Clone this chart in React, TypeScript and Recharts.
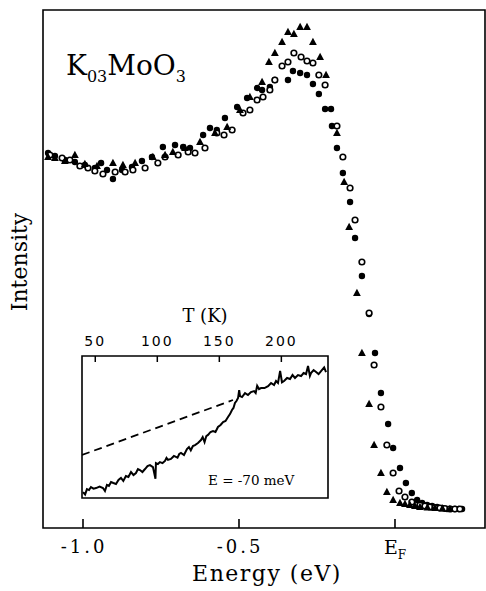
import React from 'react';
import {
  ScatterChart,
  Scatter,
  LineChart,
  Line,
  XAxis,
  YAxis,
  ReferenceArea,
} from 'recharts';

// main spectra: [energy (eV), intensity (arb.)]
const filledCircles: [number, number][] = [
  [-1.112, 75.0], [-1.09, 74.4], [-1.058, 73.6], [-1.026, 73.2], [-0.994, 72.6],
  [-0.962, 72.0], [-0.942, 73.0], [-0.923, 71.6], [-0.904, 69.8], [-0.875, 71.6],
  [-0.843, 72.2], [-0.811, 73.4], [-0.779, 74.2], [-0.744, 76.2], [-0.705, 76.6],
  [-0.679, 76.2], [-0.657, 76.0], [-0.615, 78.6], [-0.593, 80.0], [-0.571, 79.6],
  [-0.545, 82.0], [-0.506, 84.2], [-0.474, 86.0], [-0.442, 88.0], [-0.426, 87.6],
  [-0.401, 88.2], [-0.385, 89.6], [-0.343, 89.6], [-0.327, 91.4], [-0.304, 91.0],
  [-0.282, 90.6], [-0.263, 88.8], [-0.244, 86.8], [-0.224, 83.8], [-0.205, 83.8],
  [-0.202, 80.4], [-0.186, 76.0], [-0.167, 71.0], [-0.144, 65.2], [-0.128, 58.0],
  [-0.106, 50.4], [-0.083, 42.8], [-0.064, 35.0], [-0.045, 27.0], [-0.022, 20.8],
  [-0.006, 16.0], [0.016, 12.0], [0.035, 9.0], [0.054, 7.0], [0.071, 5.6],
  [0.087, 5.0], [0.103, 4.6], [0.119, 4.4], [0.135, 4.2], [0.151, 4.0],
  [0.167, 3.8], [0.18, 3.8], [0.192, 3.8], [0.204, 3.8], [0.215, 3.8],
];

const openCircles: [number, number][] = [
  [-1.106, 74.6], [-1.067, 74.0], [-1.042, 73.6], [-1.01, 72.4], [-0.984, 72.0],
  [-0.962, 71.4], [-0.936, 70.8], [-0.897, 71.2], [-0.865, 71.2], [-0.84, 71.6],
  [-0.801, 72.0], [-0.76, 73.0], [-0.737, 74.2], [-0.695, 74.6], [-0.663, 75.2],
  [-0.641, 75.0], [-0.609, 76.0], [-0.571, 79.0], [-0.548, 78.6], [-0.522, 79.6],
  [-0.487, 83.0], [-0.465, 83.6], [-0.442, 85.6], [-0.423, 86.2], [-0.401, 87.6],
  [-0.385, 89.6], [-0.362, 92.4], [-0.343, 93.2], [-0.324, 95.0], [-0.301, 94.2],
  [-0.282, 93.4], [-0.263, 93.0], [-0.244, 90.6], [-0.224, 88.6], [-0.186, 80.4],
  [-0.167, 74.2], [-0.144, 68.0], [-0.128, 61.6], [-0.106, 53.2], [-0.083, 43.0],
  [-0.067, 32.6], [-0.045, 24.2], [-0.026, 16.6], [-0.006, 11.0], [0.013, 7.4],
  [0.032, 6.2], [0.054, 5.2], [0.08, 4.6], [0.096, 4.4], [0.112, 4.2],
  [0.128, 4.1], [0.144, 4.0], [0.16, 3.9], [0.176, 3.8], [0.192, 3.8], [0.208, 3.8],
];

const triangles: [number, number][] = [
  [-1.112, 74.2], [-1.09, 74.0], [-1.058, 73.4], [-1.026, 74.6], [-0.994, 72.8],
  [-0.955, 72.4], [-0.904, 73.0], [-0.872, 72.6], [-0.833, 73.0], [-0.776, 74.2],
  [-0.737, 74.6], [-0.712, 75.2], [-0.673, 76.0], [-0.625, 77.2], [-0.577, 79.0],
  [-0.538, 80.2], [-0.497, 83.6], [-0.465, 86.2], [-0.426, 89.2], [-0.404, 93.2],
  [-0.385, 95.0], [-0.362, 97.2], [-0.343, 99.2], [-0.324, 98.8], [-0.304, 100.2],
  [-0.282, 100.2], [-0.263, 97.2], [-0.24, 94.2], [-0.221, 90.6], [-0.186, 79.0],
  [-0.163, 69.2], [-0.147, 60.2], [-0.122, 47.0], [-0.106, 35.0], [-0.083, 24.8],
  [-0.067, 16.6], [-0.045, 11.0], [-0.026, 7.2], [-0.006, 5.6], [0.016, 5.0],
  [0.032, 4.8], [0.048, 4.6], [0.064, 4.4], [0.08, 4.2], [0.104, 4.1],
  [0.128, 4.0], [0.152, 3.9], [0.176, 3.8],
];

const energyTicks = [-1, -0.5, 0];
const energyTickLabels = ['-1.0', '-0.5', 'EF'];

// inset: intensity at E = -70 meV vs temperature
const insetMeasured: [number, number][] = [
  [40.1, 4.2], [41.8, 2.5], [43.3, 6.3], [45.0, 5.6], [46.5, 7.7], [48.6, 6.6],
  [50.6, 7.0], [53.5, 8.1], [56.2, 7.0], [57.8, 4.9], [59.4, 9.2], [61.0, 8.5],
  [62.7, 11.3], [64.6, 10.6], [66.7, 9.9], [68.7, 12.7], [70.7, 14.1], [72.6, 12.0],
  [74.7, 15.5], [76.7, 14.8], [78.8, 18.3], [80.8, 16.2], [82.8, 17.6], [84.4, 20.4],
  [86.0, 19.7], [88.0, 18.3], [90.1, 20.4], [92.1, 22.5], [94.1, 23.2], [96.5, 21.8],
  [98.5, 13.5], [98.9, 24.6], [100.5, 23.9], [102.1, 25.3], [104.2, 24.6],
  [106.2, 26.1], [107.4, 28.2], [108.6, 26.8], [111.0, 27.5], [113.4, 29.6],
  [116.3, 28.4], [117.7, 31.0], [119.1, 31.7], [121.5, 30.3], [123.9, 34.5],
  [125.5, 35.9], [127.0, 33.6], [128.7, 36.6], [130.4, 37.3], [132.8, 38.7],
  [135.2, 40.8], [136.6, 42.9], [138.1, 39.4], [139.5, 43.6], [140.9, 44.4],
  [142.9, 46.5], [144.9, 47.2], [146.9, 46.5], [148.9, 50.0], [151.0, 51.4],
  [153.0, 53.5], [155.0, 54.2], [157.0, 57.0], [158.6, 59.1], [160.2, 62.0],
  [161.4, 63.4], [162.6, 66.9], [163.8, 68.3], [165.1, 70.4], [166.0, 76.0],
  [166.7, 71.8], [168.3, 71.1], [170.7, 73.9], [173.1, 72.5], [175.5, 74.6],
  [178.0, 75.3], [179.3, 73.9], [180.5, 79.0], [182.0, 76.7], [183.6, 77.4],
  [186.4, 77.4], [189.3, 78.8], [191.7, 81.0], [194.1, 79.6], [195.7, 82.4],
  [197.3, 81.0], [199.0, 89.5], [200.5, 81.5], [202.2, 82.4], [204.6, 84.5],
  [207.0, 83.8], [209.0, 86.6], [211.0, 84.5], [213.4, 86.6], [215.9, 85.9],
  [217.9, 88.0], [219.9, 87.3], [221.5, 93.0], [223.0, 86.0], [223.9, 88.0],
  [226.0, 90.1], [228.0, 88.7], [230.0, 87.3], [232.0, 89.4], [234.5, 92.0],
  [236.0, 88.7],
];
const insetExtrapolated: [number, number][] = [
  [39.3, 30.3], [161.0, 69.0],
];
const insetTicks = [50, 100, 150, 200];

const toPoints = (arr: [number, number][]) => arr.map(([e, i]) => ({ e, i }));
const toInset = (arr: [number, number][]) => arr.map(([t, v]) => ({ t, v }));

const serif = '"DejaVu Serif", serif';

const FilledDot = (props: any) => <circle cx={props.cx} cy={props.cy} r={3.2} fill="#000" />;
const OpenDot = (props: any) => (
  <circle cx={props.cx} cy={props.cy} r={2.8} fill="#fff" stroke="#000" strokeWidth={1.6} />
);
const TriDot = (props: any) => {
  const { cx, cy } = props;
  return <polygon points={`${cx},${cy - 4.3} ${cx - 3.9},${cy + 2.9} ${cx + 3.9},${cy + 2.9}`} fill="#000" />;
};

const EnergyTick = (props: any) => {
  const { x, y, payload } = props;
  const idx = energyTicks.indexOf(payload.value);
  const label = energyTickLabels[idx];
  return (
    <g>
      <line x1={x} y1={y} x2={x} y2={y - 9} stroke="#000" strokeWidth={1.6} />
      {label === 'EF' ? (
        <text x={x} y={y + 26} textAnchor="middle" fontFamily={serif} fontSize={19} fill="#000">
          E<tspan fontSize={12} dy={5}>F</tspan>
        </text>
      ) : (
        <text x={x + 1} y={y + 25} textAnchor="middle" fontFamily={serif} fontSize={18} letterSpacing={3} fill="#000">
          {label}
        </text>
      )}
    </g>
  );
};

const TempTick = (props: any) => {
  const { x, y, payload } = props;
  return (
    <g>
      <line x1={x} y1={y} x2={x} y2={y + 6} stroke="#000" strokeWidth={1.5} />
      <text x={x} y={y - 10} textAnchor="middle" fontFamily='"DejaVu Sans", sans-serif' fontSize={14} letterSpacing={2} fill="#000">
        {payload.value}
      </text>
    </g>
  );
};

export default function App() {
  return (
    <div style={{ position: 'absolute', left: 0, top: 0, width: 486, height: 591, background: '#fff' }}>
      <ScatterChart width={486} height={591} margin={{ top: 10, right: 1, bottom: 23, left: 43 }}>
        <XAxis
          type="number"
          dataKey="e"
          domain={[-1.1282, 0.2885]}
          ticks={energyTicks}
          tick={<EnergyTick />}
          tickLine={false}
          tickSize={0}
          tickMargin={0}
          axisLine={false}
          height={40}
          allowDataOverflow
        />
        <YAxis type="number" dataKey="i" domain={[0, 103.6]} hide />
        <ReferenceArea x1={-1.1282} x2={0.2885} y1={0} y2={103.6} fill="none" stroke="#000" strokeWidth={1.6} />
        <Scatter data={toPoints(filledCircles)} shape={<FilledDot />} isAnimationActive={false} />
        <Scatter data={toPoints(openCircles)} shape={<OpenDot />} isAnimationActive={false} />
        <Scatter data={toPoints(triangles)} shape={<TriDot />} isAnimationActive={false} />
      </ScatterChart>

      <div style={{ position: 'absolute', left: 72, top: 300, width: 266, height: 210 }}>
        <LineChart width={266} height={210} margin={{ top: 26, right: 10, bottom: 12, left: 10 }}>
          <XAxis
            type="number"
            dataKey="t"
            orientation="top"
            domain={[39.3, 237.6]}
            ticks={insetTicks}
            tick={<TempTick />}
            tickLine={false}
            tickSize={0}
            tickMargin={0}
            axisLine={false}
            height={30}
            allowDataOverflow
          />
          <YAxis type="number" domain={[0, 100]} hide />
          <ReferenceArea x1={39.3} x2={237.6} y1={0} y2={100} fill="none" stroke="#000" strokeWidth={1.6} />
          <Line
            data={toInset(insetExtrapolated)}
            dataKey="v"
            type="linear"
            stroke="#000"
            strokeWidth={1.8}
            strokeDasharray="8 5"
            dot={false}
            isAnimationActive={false}
          />
          <Line
            data={toInset(insetMeasured)}
            dataKey="v"
            type="linear"
            stroke="#000"
            strokeWidth={2}
            dot={false}
            isAnimationActive={false}
          />
        </LineChart>
      </div>

      <svg width={486} height={591} style={{ position: 'absolute', left: 0, top: 0, pointerEvents: 'none' }}>
        <text x={66} y={75} fontFamily={serif} fontSize={28} fill="#000">
          K<tspan fontSize={16} dy={7}>03</tspan>
          <tspan fontSize={28} dy={-7}>MoO</tspan>
          <tspan fontSize={16} dy={7}>3</tspan>
        </text>
        <text
          transform="translate(27,262) rotate(-90)"
          textAnchor="middle"
          fontFamily={serif}
          fontSize={22}
          fill="#000"
        >
          Intensity
        </text>
        <text x={267} y={581} textAnchor="middle" fontFamily={serif} fontSize={22} letterSpacing={1.5} fill="#000">
          Energy (eV)
        </text>
        <text x={205} y={322} textAnchor="middle" fontFamily={serif} fontSize={18} fill="#000">
          T (K)
        </text>
        <text x={208} y={485} fontFamily={serif} fontSize={13.5} fill="#000">
          E = -70 meV
        </text>
      </svg>
    </div>
  );
}
